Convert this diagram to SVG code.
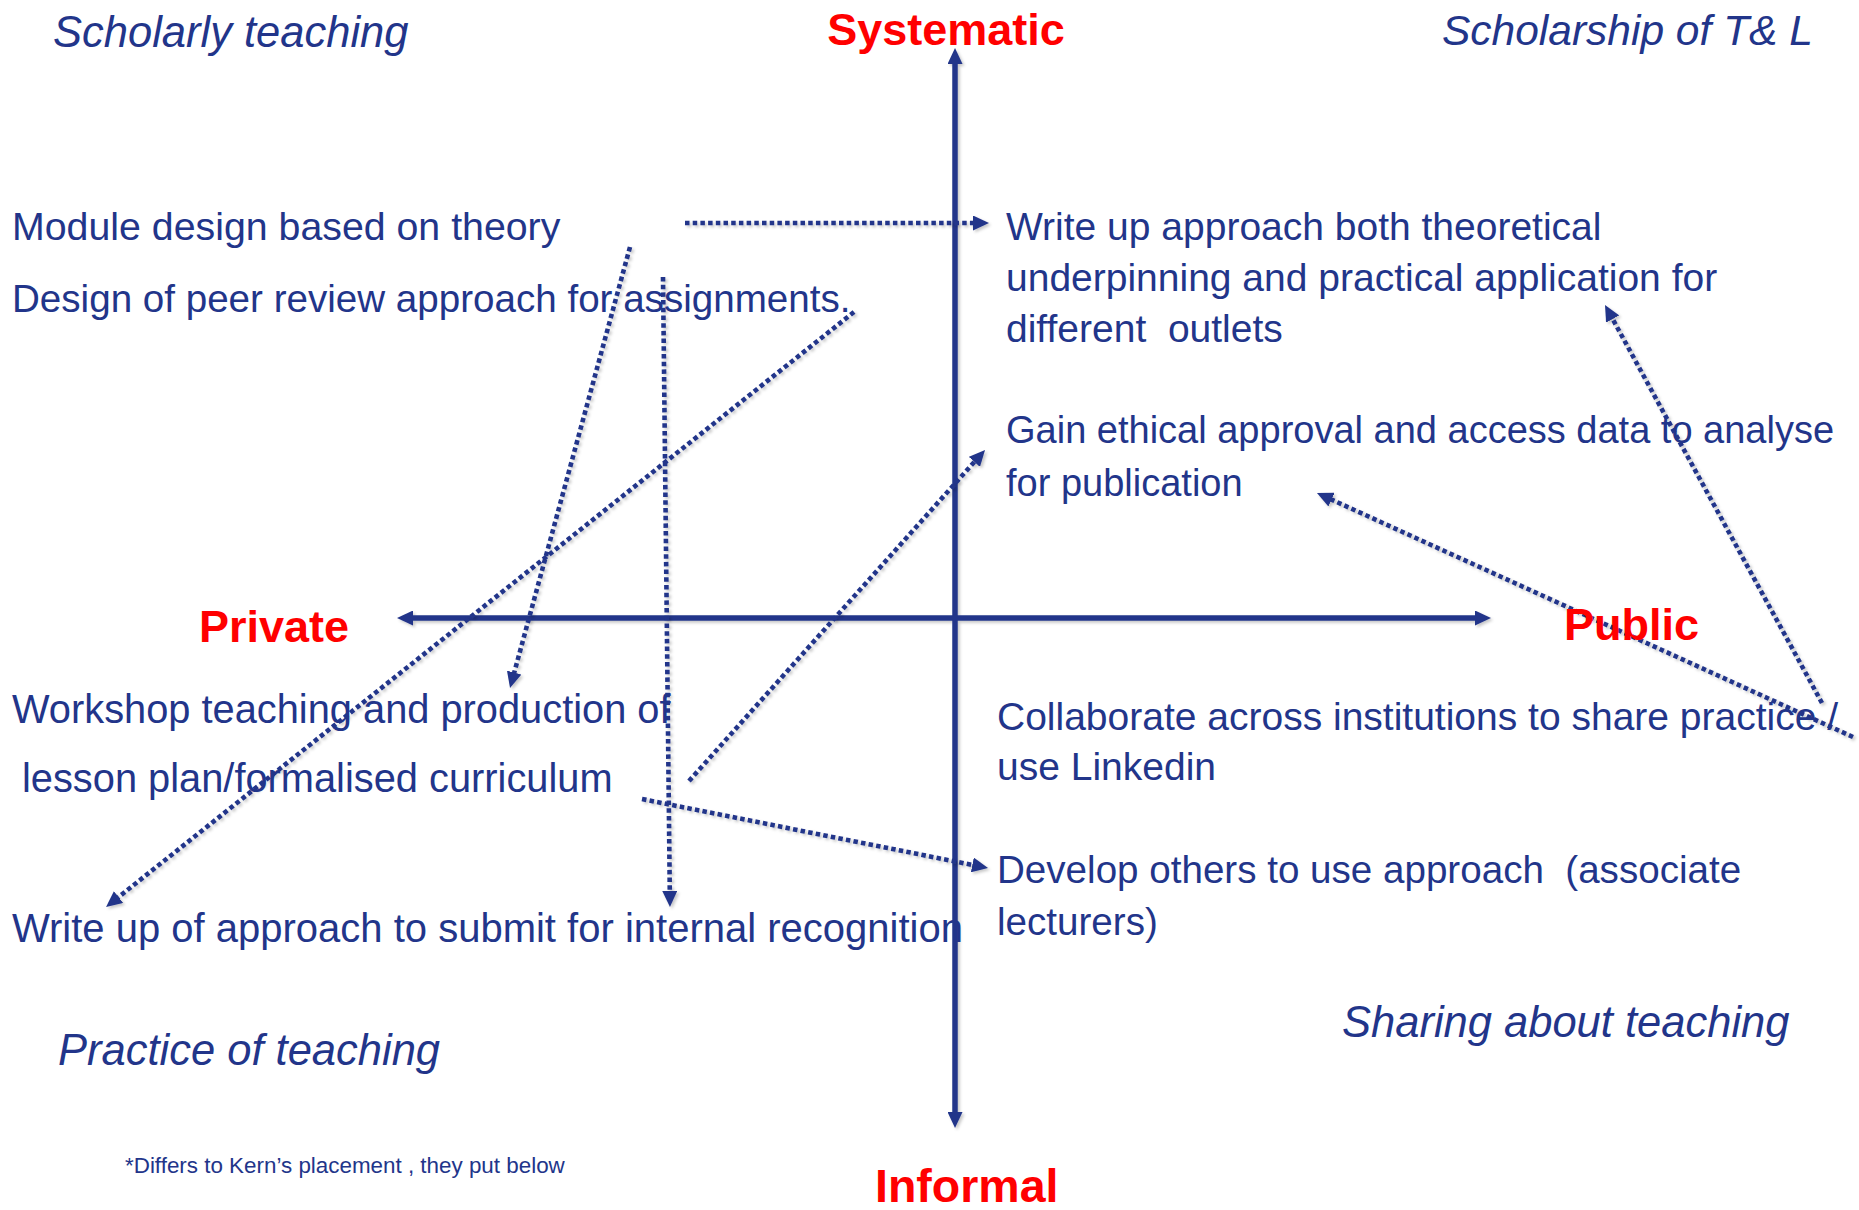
<svg xmlns="http://www.w3.org/2000/svg" width="1859" height="1210" viewBox="0 0 1859 1210">
<style>
text{font-family:"Liberation Sans",Arial,sans-serif;fill:#22358A}
.body{font-size:39px}
.ital{font-size:43.5px;font-style:italic}
.red{font-size:45px;font-weight:bold;fill:#FF0000}
.note{font-size:22.4px}
.axis{stroke:#22358A;stroke-width:5.5;fill:none;marker-start:url(#ah);marker-end:url(#ah)}
.dot{stroke:#22358A;stroke-width:4.6;stroke-dasharray:4.5 3.2;fill:none;marker-end:url(#ah)}
</style>
<defs>
<marker id="ah" markerUnits="userSpaceOnUse" viewBox="0 0 16 15" markerWidth="16" markerHeight="15" refX="2" refY="7.5" orient="auto-start-reverse">
<path d="M0,0 L16,7.5 L0,15 Z" fill="#22358A"/>
</marker>
<filter id="sh" x="-5%" y="-5%" width="110%" height="110%">
<feDropShadow dx="2" dy="2" stdDeviation="1.5" flood-color="#000" flood-opacity="0.22"/>
</filter>
</defs>
<rect width="1859" height="1210" fill="#FFFFFF"/>

<g id="axes" filter="url(#sh)">
<line class="axis" x1="955" y1="62" x2="955" y2="1114"/>
<line class="axis" x1="411" y1="618" x2="1477" y2="618"/>
</g>

<g id="connectors" filter="url(#sh)">
<line class="dot" x1="685" y1="223" x2="975" y2="223"/>
<line class="dot" x1="630" y1="247" x2="513.7" y2="674.5"/>
<line class="dot" x1="663" y1="277" x2="669.8" y2="893"/>
<line class="dot" x1="854" y1="312" x2="117" y2="898.3"/>
<line class="dot" x1="689" y1="781" x2="975.7" y2="460.4"/>
<line class="dot" x1="642" y1="799" x2="974.3" y2="865.3"/>
<line class="dot" x1="1853" y1="737" x2="1329.7" y2="498.8"/>
<line class="dot" x1="1822" y1="703" x2="1611.7" y2="317.3"/>
</g>

<g id="label-systematic"><text class="red" x="946" y="45" text-anchor="middle">Systematic</text></g>
<g id="label-informal"><text class="red" x="875" y="1202" style="font-size:46.5px">Informal</text></g>
<g id="label-private"><text class="red" x="199" y="642">Private</text></g>
<g id="label-public"><text class="red" x="1564" y="640">Public</text></g>

<g id="quad-scholarly"><text class="ital" x="53" y="47">Scholarly teaching</text></g>
<g id="quad-sotl"><text class="ital" x="1442" y="45" style="font-size:42.5px">Scholarship of T&amp; L</text></g>
<g id="quad-practice"><text class="ital" x="58" y="1065">Practice of teaching</text></g>
<g id="quad-sharing"><text class="ital" x="1342" y="1037">Sharing about teaching</text></g>

<g id="node-module"><text class="body" x="12" y="240" style="font-size:39.3px">Module design based on theory</text></g>
<g id="node-peer"><text class="body" x="12" y="312" style="font-size:38.6px">Design of peer review approach for assignments.</text></g>
<g id="node-writeup-theory">
<text class="body" x="1006" y="240">Write up approach both theoretical</text>
<text class="body" x="1006" y="291">underpinning and practical application for</text>
<text class="body" x="1006" y="342" xml:space="preserve">different  outlets</text>
</g>
<g id="node-ethical">
<text class="body" x="1006" y="443" style="font-size:38px">Gain ethical approval and access data to analyse</text>
<text class="body" x="1006" y="496" style="font-size:38px">for publication</text>
</g>
<g id="node-workshop">
<text class="body" x="12" y="723" style="font-size:39.8px">Workshop teaching and production of</text>
<text class="body" x="22" y="792" style="font-size:39.8px">lesson plan/formalised curriculum</text>
</g>
<g id="node-internal"><text class="body" x="12" y="942" style="font-size:40px">Write up of approach to submit for internal recognition</text></g>
<g id="node-collaborate">
<text class="body" x="997" y="730">Collaborate across institutions to share practice /</text>
<text class="body" x="997" y="780">use Linkedin</text>
</g>
<g id="node-develop">
<text class="body" x="997" y="883" xml:space="preserve" style="font-size:38.6px">Develop others to use approach  (associate</text>
<text class="body" x="997" y="935" style="font-size:38.6px">lecturers)</text>
</g>
<g id="footnote"><text class="note" x="125" y="1173">*Differs to Kern’s placement , they put below</text></g>
</svg>
